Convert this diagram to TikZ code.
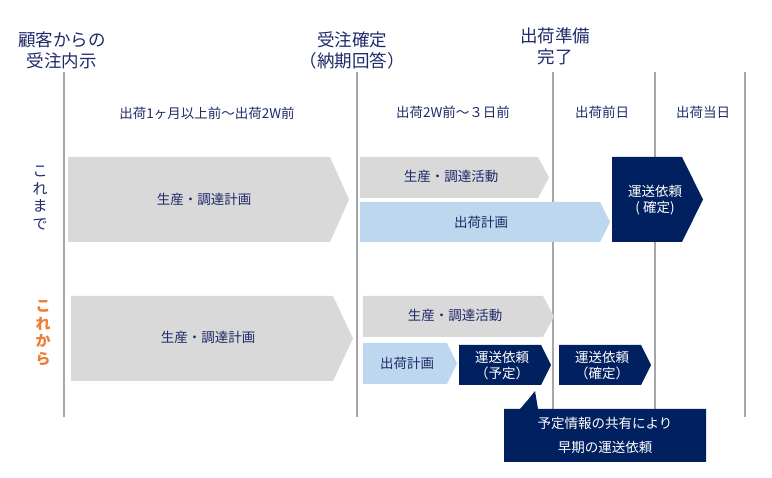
\documentclass[tikz,border=0pt]{standalone}
\usepackage{fontspec}
\setmainfont{Noto Sans CJK JP}
\definecolor{navy}{HTML}{002060}
\definecolor{inkblue}{HTML}{1F2A68}
\definecolor{paleblue}{HTML}{BDD7EE}
\definecolor{bargrey}{HTML}{D9D9D9}
\definecolor{rulegrey}{HTML}{A6A6A6}
\definecolor{accent}{HTML}{ED7D31}

\begin{document}
\begin{tikzpicture}[x=1pt, y=-1pt,
	every node/.style={font=\fontsize{13.5}{16}\selectfont, text=inkblue, inner sep=0pt, align=center},
	head/.style={font=\fontsize{17.5}{21}\selectfont},
	rowlabel/.style={font=\fontsize{15}{17.5}\selectfont},
	onnavy/.style={text=white}]
	\useasboundingbox (0,0) rectangle (772,478);

	% time lines
	\foreach \x in {64,357,553,655,745}
		\draw[rulegrey, line width=2pt] (\x,72) -- (\x,417);

	% milestones
	\node[head] (inquiry) at (62,50.5) {顧客からの\\受注内示};
	\node[head] (confirm) at (352,50.5) {受注確定\\（納期回答）};
	\node[head] (ready) at (555,46) {出荷準備\\完了};

	% periods
	\node (span1) at (207,113) {出荷1ヶ月以上前～出荷2W前};
	\node (span2) at (453,112) {出荷2W前～３日前};
	\node (span3) at (602,112) {出荷前日};
	\node (span4) at (703,112) {出荷当日};

	% row labels
	\node[rowlabel] (before) at (40,198) {こ\\れ\\ま\\で};
	\node[rowlabel, text=accent, font=\fontsize{15}{17.5}\selectfont\bfseries] (after) at (43,333) {こ\\れ\\か\\ら};

	% before
	\fill[bargrey] (68,157) -- (330,157) -- (349,199.5) -- (330,242) -- (68,242) -- cycle;
	\node (oldplan) at (204,199) {生産・調達計画};
	\fill[bargrey] (360,157) -- (538,157) -- (549,177.5) -- (538,198) -- (360,198) -- cycle;
	\node (oldwork) at (451,176) {生産・調達活動};
	\fill[paleblue] (360,202) -- (600,202) -- (610,222) -- (600,242) -- (360,242) -- cycle;
	\node (oldship) at (481,222) {出荷計画};
	\fill[navy] (612,157) -- (682,157) -- (703,199.5) -- (682,242) -- (612,242) -- cycle;
	\node[onnavy] (oldorder) at (655,200) {運送依頼\\( 確定)};

	% after
	\fill[bargrey] (71,296) -- (333,296) -- (353,338.5) -- (333,381) -- (71,381) -- cycle;
	\node (newplan) at (208,337) {生産・調達計画};
	\fill[bargrey] (363,296) -- (543,296) -- (554,316.5) -- (543,337) -- (363,337) -- cycle;
	\node (newwork) at (455,315) {生産・調達活動};
	\fill[paleblue] (363,343) -- (447,343) -- (457,363.5) -- (447,384) -- (363,384) -- cycle;
	\node (newship) at (407,363) {出荷計画};
	\fill[navy] (459,345) -- (541,345) -- (551,365) -- (541,385) -- (459,385) -- cycle;
	\node[onnavy] (planorder) at (502,365.5) {運送依頼\\（予定）};
	\fill[navy] (559,345) -- (641,345) -- (651,365) -- (641,385) -- (559,385) -- cycle;
	\node[onnavy] (fixorder) at (602,365.5) {運送依頼\\（確定）};

	% callout
	\fill[navy] (504,409) -- (520,409) .. controls (527,401) .. (535,391) -- (538,409)
		-- (706,409) -- (706,462) -- (504,462) -- cycle;
	\node[onnavy, font=\fontsize{13.5}{24}\selectfont] (note) at (605,435.5) {予定情報の共有により\\早期の運送依頼};
\end{tikzpicture}
\end{document}
